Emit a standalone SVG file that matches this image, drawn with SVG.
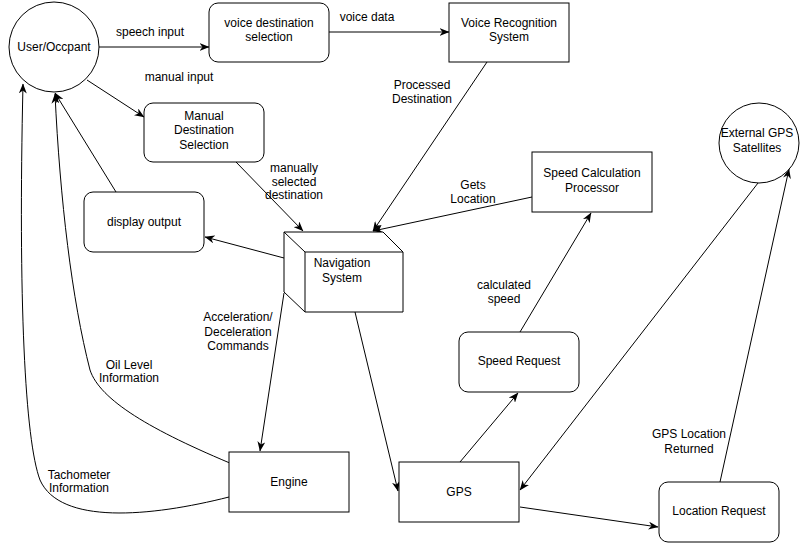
<svg xmlns="http://www.w3.org/2000/svg" width="801" height="547" viewBox="0 0 801 547">
  <defs>
    <marker id="arrow" markerUnits="userSpaceOnUse" viewBox="0 0 10 8" refX="9.5" refY="4" markerWidth="10" markerHeight="8" orient="auto">
      <path d="M0,0 L10,4 L0,8 L3,4 Z" fill="#000"/>
    </marker>
  </defs>
  <style>
    .shape { fill: #fff; stroke: #000; stroke-width: 1; }
    .edge { fill: none; stroke: #000; stroke-width: 1; marker-end: url(#arrow); }
    text { font-family: "Liberation Sans", Arial, sans-serif; font-size: 12px; fill: #000; text-anchor: middle; }
  </style>
  <rect width="801" height="547" fill="#fff"/>

  <!-- connectors -->
  <g id="connectors">
    <line class="edge" x1="99" y1="47" x2="209" y2="47"/>
    <line class="edge" x1="329" y1="32" x2="449" y2="32"/>
    <line class="edge" x1="87" y1="80" x2="144" y2="117"/>
    <line class="edge" x1="487" y1="62" x2="373" y2="231"/>
    <line class="edge" x1="236" y1="162" x2="303" y2="231"/>
    <line class="edge" x1="532" y1="197" x2="373" y2="231"/>
    <line class="edge" x1="284" y1="258" x2="205" y2="237"/>
    <line class="edge" x1="116" y1="192" x2="55" y2="93"/>
    <line class="edge" x1="284" y1="293" x2="260" y2="451"/>
    <line class="edge" x1="355" y1="312" x2="398" y2="491"/>
    <line class="edge" x1="460" y1="462" x2="518" y2="393"/>
    <line class="edge" x1="520" y1="332" x2="591" y2="213"/>
    <line class="edge" x1="758" y1="183" x2="520" y2="490"/>
    <line class="edge" x1="520" y1="507" x2="658" y2="527"/>
    <line class="edge" x1="720" y1="482" x2="789" y2="169"/>
    <path class="edge" d="M237,466 C150,430 100,400 90,370 C72,300 60,200 55,94"/>
    <path class="edge" d="M229,497 C150,517 60,525 40,480 C25,440 18,300 23,84"/>

    <text x="150" y="36">speech input</text>
    <text x="367" y="21">voice data</text>
    <text x="179" y="81">manual input</text>
    <text x="422" y="89">Processed</text>
    <text x="422" y="103">Destination</text>
    <text x="294" y="172">manually</text>
    <text x="294" y="186">selected</text>
    <text x="294" y="199">destination</text>
    <text x="473" y="189">Gets</text>
    <text x="473" y="203">Location</text>
    <text x="238" y="321">Acceleration/</text>
    <text x="238" y="336">Deceleration</text>
    <text x="238" y="350">Commands</text>
    <text x="129" y="369">Oil Level</text>
    <text x="129" y="382">Information</text>
    <text x="79" y="479">Tachometer</text>
    <text x="79" y="492">Information</text>
    <text x="504" y="289">calculated</text>
    <text x="504" y="303">speed</text>
    <text x="689" y="438">GPS Location</text>
    <text x="689" y="453">Returned</text>
  </g>

  <g id="user">
    <circle class="shape" cx="54" cy="47" r="45"/>
    <text x="54" y="51">User/Occpant</text>
  </g>
  <g id="voice-destination">
    <rect class="shape" x="209" y="3" width="120" height="59" rx="9"/>
    <text x="269" y="27">voice destination</text>
    <text x="269" y="41">selection</text>
  </g>
  <g id="voice-recognition">
    <rect class="shape" x="449" y="3" width="120" height="59"/>
    <text x="509" y="27">Voice Recognition</text>
    <text x="509" y="41">System</text>
  </g>
  <g id="manual-destination">
    <rect class="shape" x="144" y="103" width="120" height="59" rx="9"/>
    <text x="204" y="120">Manual</text>
    <text x="204" y="134">Destination</text>
    <text x="204" y="149">Selection</text>
  </g>
  <g id="display-output">
    <rect class="shape" x="84" y="192" width="120" height="60" rx="9"/>
    <text x="144" y="226">display output</text>
  </g>
  <g id="navigation">
    <path class="shape" d="M284,232 L383,232 L403,252 L403,312 L305,312 L284,292 Z"/>
    <path fill="none" stroke="#000" d="M284,232 L305,252 L403,252 M305,252 L305,312"/>
    <text x="342" y="267">Navigation</text>
    <text x="342" y="282">System</text>
  </g>
  <g id="speed-calculation">
    <rect class="shape" x="532" y="152" width="120" height="60"/>
    <text x="592" y="177">Speed Calculation</text>
    <text x="592" y="192">Processor</text>
  </g>
  <g id="gps-satellites">
    <circle class="shape" cx="759" cy="143" r="40"/>
    <text x="757" y="137">External GPS</text>
    <text x="757" y="152">Satellites</text>
  </g>
  <g id="speed-request">
    <rect class="shape" x="459" y="332" width="120" height="60" rx="9"/>
    <text x="519" y="365">Speed Request</text>
  </g>
  <g id="engine">
    <rect class="shape" x="229" y="452" width="120" height="60"/>
    <text x="289" y="486">Engine</text>
  </g>
  <g id="gps">
    <rect class="shape" x="399" y="462" width="120" height="60"/>
    <text x="459" y="496">GPS</text>
  </g>
  <g id="location-request">
    <rect class="shape" x="659" y="482" width="120" height="60" rx="9"/>
    <text x="719" y="515">Location Request</text>
  </g>
</svg>
